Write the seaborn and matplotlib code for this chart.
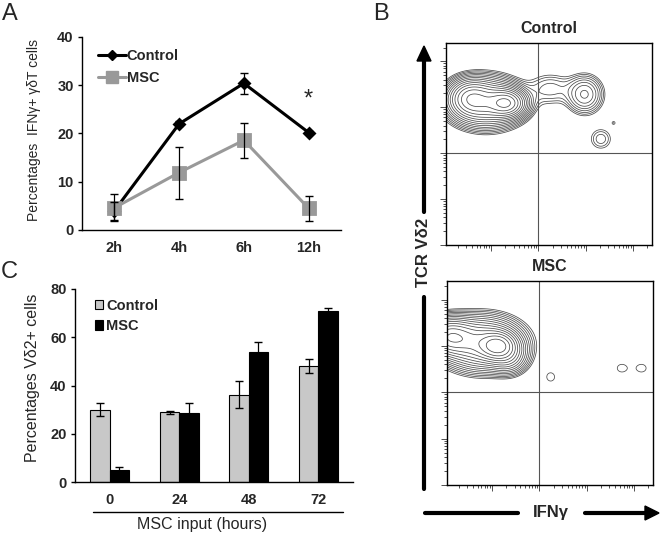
import numpy as np
import pandas as pd
import matplotlib
matplotlib.use("Agg")
import matplotlib.pyplot as plt
import seaborn as sns
from matplotlib.lines import Line2D
from matplotlib.patches import Patch, Polygon

# Painel A - % IFNg+ gdT
tempos = ["2h", "4h", "6h", "12h"]
ctrl_a = [4.0, 22.0, 30.4, 20.2]
ctrl_a_err = [1.9, 0.5, 2.2, 0.4]
msc_a = [4.6, 11.9, 18.6, 4.5]
msc_a_err = [2.8, 5.4, 3.6, 2.6]

# Painel C - % Vd2+
horas = ["0", "24", "48", "72"]
ctrl_c = [30.0, 28.9, 36.2, 48.1]
ctrl_c_err = [2.6, 0.7, 5.5, 2.9]
msc_c = [5.1, 28.6, 54.0, 70.9]
msc_c_err = [1.3, 4.2, 3.9, 1.4]

# Painel B - populações (log10 IFNg, log10 TCR Vd2, sx, sy, amplitude)
pop_ctrl_x = [0.90, 1.34, 0.55, 2.25, 2.98, 3.32, 3.59]
pop_ctrl_y = [3.10, 3.09, 3.20, 3.40, 3.28, 2.31, 2.66]
pop_ctrl_sx = [0.40, 0.22, 0.25, 0.30, 0.22, 0.17, 0.04]
pop_ctrl_sy = [0.28, 0.17, 0.22, 0.22, 0.24, 0.17, 0.04]
pop_ctrl_amp = [0.45, 0.60, 0.35, 0.05, 0.13, 0.04, 0.025]

pop_msc_x = [0.80, 1.13, 0.10, 1.35, 2.24, 3.74, 4.16]
pop_msc_y = [3.05, 3.00, 3.20, 2.75, 2.33, 2.52, 2.52]
pop_msc_sx = [0.45, 0.22, 0.30, 0.22, 0.12, 0.14, 0.14]
pop_msc_sy = [0.30, 0.17, 0.22, 0.20, 0.13, 0.12, 0.12]
pop_msc_amp = [0.45, 0.60, 0.50, 0.15, 0.025, 0.025, 0.025]

W, H = 660, 534
sns.set_style("white")
plt.rcParams['font.family'] = ['Liberation Sans', 'DejaVu Sans']
fig = plt.figure(figsize=(W/100, H/100), dpi=100)


def eixo_px(l, t, r, b):
    return fig.add_axes([l/W, 1 - b/H, (r - l)/W, (b - t)/H])


def texto_px(x, y, s, **kw):
    fig.text(x/W, 1 - y/H, s, ha='center', va='center', **kw)


def linha_px(x0, y0, x1, y1, lw=1.0):
    fig.add_artist(Line2D([x0/W, x1/W], [1 - y0/H, 1 - y1/H], color='black',
                          lw=lw, transform=fig.transFigure))


def seta_px(pts):
    fig.add_artist(Polygon([[a/W, 1 - b/H] for a, b in pts], closed=True, color='black',
                           transform=fig.transFigure))


def eixo_categorico(ax, n):
    ax.set_xlim(-0.5, n - 0.5)
    ax.set_xticks(np.arange(-0.5, n, 1.0), minor=True)
    ax.tick_params(axis='x', which='major', length=0, pad=8)
    ax.tick_params(axis='x', which='minor', length=4, width=1, direction='out', color='black')
    ax.tick_params(axis='y', length=3, width=1, direction='out', color='black', pad=3, left=True)
    for s in ['top', 'right']:
        ax.spines[s].set_visible(False)
    for s in ['left', 'bottom']:
        ax.spines[s].set_color('black')
        ax.spines[s].set_linewidth(1)
    for lab in ax.get_xticklabels() + ax.get_yticklabels():
        lab.set_fontweight('bold')
        lab.set_fontsize(10.5)
    ax.set_xlabel('')
    ax.set_ylabel('')


###A. linhas
axA = eixo_px(82, 37, 341, 230)
df_a = pd.DataFrame({"Tempo": tempos * 2, "Valor": ctrl_a + msc_a,
                     "Grupo": ["Control"] * 4 + ["MSC"] * 4})
cores = {"Control": "black", "MSC": "#999999"}
sns.pointplot(data=df_a, x="Tempo", y="Valor", hue="Grupo", order=tempos, palette=cores,
              markers=["D", "s"], linestyles=["-", "-"], errorbar=None, ax=axA, legend=False)
axA.lines[0].set_linewidth(2.2)
axA.lines[0].set_markersize(5)
axA.lines[1].set_linewidth(2.2)
axA.lines[1].set_markersize(8)
x = np.arange(len(tempos))
axA.errorbar(x, ctrl_a, yerr=ctrl_a_err, fmt='none', ecolor='black', elinewidth=0.9, capsize=3, zorder=5)
axA.errorbar(x, msc_a, yerr=msc_a_err, fmt='none', ecolor='black', elinewidth=0.9, capsize=3, zorder=5)
axA.set_ylim(0, 40)
axA.set_yticks([0, 10, 20, 30, 40])
eixo_categorico(axA, 4)
axA.text(3, 27, "*", ha='center', va='center', fontsize=17)
hand_a = [Line2D([], [], color='black', lw=2.2, marker='D', markersize=5),
          Line2D([], [], color='#999999', lw=2.2, marker='s', markersize=8)]
axA.legend(hand_a, ["Control", "MSC"], loc='upper left', bbox_to_anchor=(0.04, 0.97),
           frameon=False, handlelength=1.9, handletextpad=0.05, labelspacing=0.55,
           prop={'weight': 'bold', 'size': 10.5}, borderaxespad=0)
texto_px(34, 130, "Percentages  IFNγ+ γδT cells", rotation=90, fontsize=10)

###C. barras
axC = eixo_px(75, 289, 353, 482)
df_c = pd.DataFrame({"Horas": horas * 2, "Valor": ctrl_c + msc_c,
                     "Grupo": ["Control"] * 4 + ["MSC"] * 4})
sns.barplot(data=df_c, x="Horas", y="Valor", hue="Grupo", order=horas,
            palette={"Control": "#c8c8c8", "MSC": "black"}, errorbar=None, width=0.56,
            gap=0, edgecolor='black', linewidth=0.8, ax=axC, legend=False)
for cont, vals, errs in zip(axC.containers, [ctrl_c, msc_c], [ctrl_c_err, msc_c_err]):
    xs = [p.get_x() + p.get_width() / 2 for p in cont.patches]
    axC.errorbar(xs, vals, yerr=errs, fmt='none', ecolor='black', elinewidth=0.9, capsize=3, zorder=5)
axC.set_ylim(0, 80)
axC.set_yticks([0, 20, 40, 60, 80])
eixo_categorico(axC, 4)
hand_c = [Patch(facecolor='#c8c8c8', edgecolor='black', lw=0.8),
          Patch(facecolor='black', edgecolor='black', lw=0.8)]
axC.legend(hand_c, ["Control", "MSC"], loc='upper left', bbox_to_anchor=(0.05, 0.98),
           frameon=False, handlelength=0.6, handleheight=0.6, handletextpad=0.2, labelspacing=0.45,
           prop={'weight': 'bold', 'size': 10.5}, borderaxespad=0)
texto_px(33, 378, "Percentages Vδ2+ cells", rotation=90, fontsize=11.5)
linha_px(93, 512, 343, 512, lw=1.0)
texto_px(202, 525, "MSC input (hours)", fontsize=11.5)

###B. contornos
u = np.linspace(0.05, 4.4, 400)
v = np.linspace(0.0, 4.4, 400)
U, V = np.meshgrid(u, v)
niveis = np.geomspace(0.02, 1.0, 16)


def densidade(px, py, sx, sy, amp):
    z = np.zeros_like(U)
    for a, b, c, d, e in zip(px, py, sx, sy, amp):
        z += e * np.exp(-((U - a) ** 2 / (2 * c ** 2) + (V - b) ** 2 / (2 * d ** 2)))
    return z


def painel_fluxo(ax, z, titulo):
    ax.contour(10 ** U, 10 ** V, z, levels=niveis, colors='#4a4a4a', linewidths=0.55)
    ax.set_xscale('log')
    ax.set_yscale('log')
    ax.set_xlim(10 ** 0.05, 10 ** 4.4)
    ax.set_ylim(1, 10 ** 4.4)
    ax.axvline(100, color='#555555', lw=0.8)
    ax.axhline(100, color='#555555', lw=0.8)
    ax.tick_params(which='both', direction='out', labelbottom=False, labelleft=False,
                   bottom=True, left=True, color='#333333', width=0.6)
    ax.tick_params(which='major', length=4)
    ax.tick_params(which='minor', length=2.5)
    for s in ax.spines.values():
        s.set_color('black')
        s.set_linewidth(1)
    ax.set_title(titulo, fontsize=11.5, fontweight='bold', pad=7)


axB1 = eixo_px(446, 43, 652, 245)
painel_fluxo(axB1, densidade(pop_ctrl_x, pop_ctrl_y, pop_ctrl_sx, pop_ctrl_sy, pop_ctrl_amp), "Control")
axB2 = eixo_px(447, 281, 653, 485)
painel_fluxo(axB2, densidade(pop_msc_x, pop_msc_y, pop_msc_sx, pop_msc_sy, pop_msc_amp), "MSC")

# setas dos eixos
linha_px(424, 212, 424, 58, lw=3)
seta_px([(417, 61), (431, 61), (424, 46)])
linha_px(424, 297, 424, 489, lw=3)
texto_px(424, 252, "TCR Vδ2", rotation=90, fontsize=12, fontweight='bold')
linha_px(425, 513, 518, 513, lw=3)
linha_px(585, 513, 646, 513, lw=3)
seta_px([(645, 506), (645, 520), (659, 513)])
texto_px(551, 513, "IFNγ", fontsize=12, fontweight='bold')

# letras dos painéis
texto_px(10, 14, "A", fontsize=17)
texto_px(381, 14, "B", fontsize=17)
texto_px(9, 272, "C", fontsize=17)

fig.savefig("out.png", dpi=100)
